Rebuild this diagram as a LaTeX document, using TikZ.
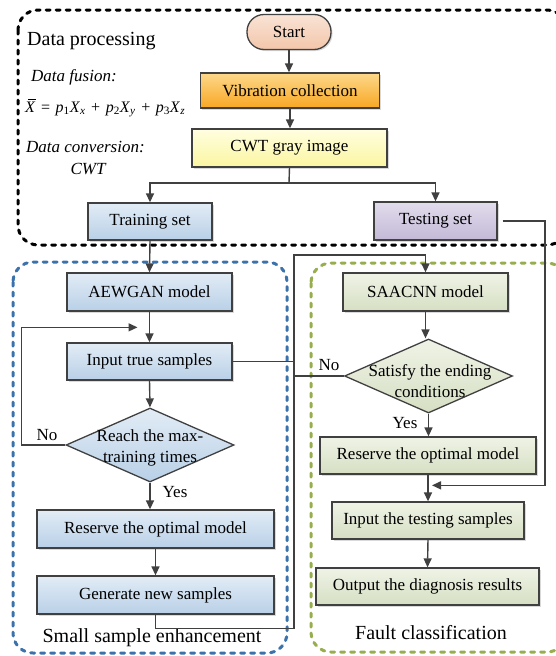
\documentclass[tikz,border=0pt]{standalone}
\usepackage{fontspec}
\setmainfont{Liberation Serif}
\usetikzlibrary{arrows.meta,shapes.geometric,shadows}
\definecolor{lnc}{HTML}{404040}
\definecolor{stT}{HTML}{F9E3D5}\definecolor{stB}{HTML}{F3C6AA}
\definecolor{viT}{HTML}{FDD88A}\definecolor{viB}{HTML}{F8A723}
\definecolor{cwT}{HTML}{FFFEE0}\definecolor{cwB}{HTML}{FBF6A0}
\definecolor{blT}{HTML}{E2ECF6}\definecolor{blB}{HTML}{B9D0E7}
\definecolor{laT}{HTML}{E2DCEC}\definecolor{laB}{HTML}{C3B9D7}
\definecolor{grT}{HTML}{EFF3E6}\definecolor{grB}{HTML}{D6DFC3}
\definecolor{dashblue}{HTML}{3C72AC}
\definecolor{dashgreen}{HTML}{97AE4E}
\newcommand{\myxbar}{\leavevmode\rlap{\hspace{0.18em}\rule[0.78em]{0.5em}{0.06em}}\textit{X}}
\newcommand{\mysub}[1]{\textsubscript{#1}}
\newcommand{\opsp}{\hspace{0.35em}}
\begin{document}
\begin{tikzpicture}[x=1pt,y=-1pt,
  box/.style={draw=lnc, line width=1.3pt, minimum height=37pt, inner sep=2pt,
    font=\fontsize{17}{20}\selectfont,
    drop shadow={shadow xshift=1.5pt,shadow yshift=-1.5pt,fill=black,opacity=0.15}},
  bluebox/.style={box, top color=blT, bottom color=blB},
  greenbox/.style={box, top color=grT, bottom color=grB},
  dia/.style={diamond, draw=lnc, line width=1.3pt, inner sep=0pt,
    minimum width=168pt, minimum height=74pt},
  dtext/.style={align=center, font=\fontsize{17}{21}\selectfont, inner sep=0pt},
  conn/.style={draw=lnc, line width=1.4pt},
  arr/.style={conn, -{Triangle[length=9pt,width=8pt]}},
  region/.style={line width=3pt, dash pattern=on 4pt off 6pt, line cap=round, rounded corners=20pt},
  lbl/.style={font=\fontsize{17}{20}\selectfont, inner sep=1pt},
  big/.style={font=\fontsize{20}{24}\selectfont, inner sep=0pt}
]
\useasboundingbox (0,0) rectangle (556,656);
\fill[white] (0,0) rectangle (556,656);

% regions
\draw[region, black] (18,10) rectangle (567,245);
\draw[region, dashblue] (13,262) rectangle (287,653);
\draw[region, dashgreen] (311,263) rectangle (567,652);

% nodes
\node[box, top color=stT, bottom color=stB, minimum width=84pt, minimum height=35pt, rounded corners=17pt] (start) at (289,32) {Start};
\node[box, top color=viT, bottom color=viB, minimum width=179pt, minimum height=35pt] (vib) at (290,90.5) {Vibration collection};
\node[box, top color=cwT, bottom color=cwB, minimum width=195pt, minimum height=38pt] (cwt) at (289.5,148) {CWT gray image};
\node[bluebox, minimum width=124pt] (train) at (150,221.5) {Training set};
\node[box, top color=laT, bottom color=laB, minimum width=123pt, minimum height=38pt] (test) at (435.5,221) {Testing set};

\node[bluebox, minimum width=165pt, minimum height=38pt] (aew) at (149.5,292) {AEWGAN model};
\node[bluebox, minimum width=165pt] (its) at (149.5,361.5) {Input true samples};
\node[dia, top color=blT, bottom color=blB] (d1) at (150,445) {};
\node[dtext] (d1t) at (150,448) {Reach the max-\\training times};
\node[bluebox, minimum width=237pt, minimum height=38pt] (res1) at (155.5,529) {Reserve the optimal model};
\node[bluebox, minimum width=237pt, minimum height=38pt] (gen) at (155.5,595) {Generate new samples};

\node[greenbox, minimum width=165pt, minimum height=38pt] (saa) at (425.5,292) {SAACNN model};
\node[dia, top color=grT, bottom color=grB] (d2) at (428.5,376) {};
\node[dtext] (d2t) at (430,381) {Satisfy the ending\\conditions};
\node[greenbox, minimum width=216pt] (res2) at (428,455.5) {Reserve the optimal model};
\node[greenbox, minimum width=192pt] (inp) at (428,520.5) {Input the testing samples};
\node[greenbox, minimum width=223pt] (out) at (427.5,586.5) {Output the diagnosis results};

% left texts
\node[big, anchor=west] (dp) at (27,41) {Data processing};
\node[lbl, anchor=west] (df) at (30,77) {\itshape Data fusion:};
\node[inner sep=0pt, anchor=west, font=\fontsize{16}{19}\selectfont] (eq) at (25,108)
  {\myxbar\opsp=\opsp\textit{p}\mysub{1}\textit{X}\mysub{\textit{x}}\opsp+\opsp\textit{p}\mysub{2}\textit{X}\mysub{\textit{y}}\opsp+\opsp\textit{p}\mysub{3}\textit{X}\mysub{\textit{z}}};
\node[lbl, anchor=west] (dc) at (25,147) {\itshape Data conversion:};
\node[lbl] (cw) at (88,169) {\itshape CWT};
\node[big] (sse) at (152,638) {Small sample enhancement};
\node[big] (fc) at (431,633) {Fault classification};

% coordinates
\coordinate (split) at (289,183);
\coordinate (bus) at (294,255);
\coordinate (tr) at (545,221);

% connectors
\draw[arr] (start.south) -- (start.south |- vib.north);
\draw[arr] (vib.south) -- (vib.south |- cwt.north);
\draw[conn] (cwt.south) -- (split);
\draw[arr] (split) -| (train.north);
\draw[arr] (split) -| (test.north);
\draw[arr] (train.south) -- (aew.north);
\draw[arr] (aew.south) -- (its.north);
\draw[arr] (its.south) -- (d1.north);
\draw[arr] (d1.west) -- ++(-44,0) |- ([xshift=-12pt,yshift=15pt]its.north);
\node[lbl] (no1) at (47,435) {No};
\draw[arr] (d1.south) -- (d1.south |- res1.north);
\node[lbl] (yes1) at (175,492) {Yes};
\draw[arr] (res1.south) -- (gen.north);
\draw[arr] (gen.south) -- ++(0,14) -| (bus) -| (saa.north);
\draw[conn] (its.east) -- (its.east -| bus);
\draw[arr] (saa.south) -- (saa.south |- d2.north);
\draw[conn] (d2.west) -- (d2.west -| bus);
\node[lbl] (no2) at (329,365) {No};
\draw[arr] (d2.south) -- (d2.south |- res2.north);
\node[lbl] (yes2) at (405,423) {Yes};
\draw[arr] (res2.south) -- (inp.north);
\draw[arr] ([xshift=5pt]test.east) -- (tr) |- ([xshift=4pt,yshift=16pt]inp.north);
\draw[arr] (inp.south) -- (out.north);
\end{tikzpicture}
\end{document}
